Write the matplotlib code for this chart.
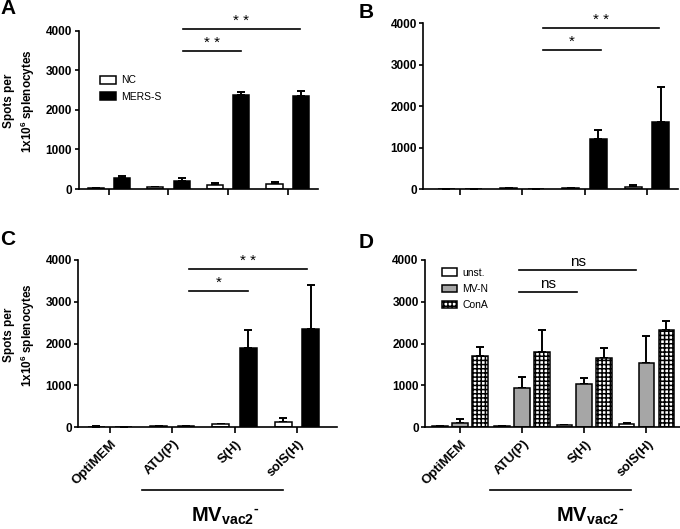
import numpy as np
import matplotlib.pyplot as plt
from matplotlib import transforms

plt.rcParams['font.family'] = 'Liberation Sans'
plt.rcParams['mathtext.fontset'] = 'custom'
plt.rcParams['mathtext.rm'] = 'Liberation Sans'
plt.rcParams['mathtext.bf'] = 'Liberation Sans:bold'
plt.rcParams['hatch.linewidth'] = 1.1

W, H = 680, 529

groups = ['OptiMEM', 'ATU(P)', 'S(H)', 'solS(H)']

# A: NC / MERS-S
a_nc = [20, 50, 90, 125]
a_nc_err = [10, 10, 50, 60]
a_mers = [265, 190, 2370, 2350]
a_mers_err = [75, 95, 75, 115]

# B
b_nc = [10, 20, 30, 65]
b_nc_err = [3, 5, 8, 40]
b_mers = [10, 10, 1205, 1620]
b_mers_err = [3, 3, 225, 835]

# C
c_nc = [10, 20, 60, 120]
c_nc_err = [3, 5, 15, 95]
c_mers = [8, 25, 1900, 2345]
c_mers_err = [3, 8, 435, 1060]

# D: unst / MV-N / ConA
d_unst = [15, 20, 40, 60]
d_unst_err = [3, 5, 10, 35]
d_mvn = [105, 925, 1020, 1540]
d_mvn_err = [80, 270, 145, 645]
d_cona = [1700, 1805, 1645, 2320]
d_cona_err = [225, 515, 240, 215]

fig = plt.figure(figsize=(6.8, 5.29), dpi=100)


def fx(x):
    return x / W


def fy(y):
    return 1 - y / H


def make_ax(x0, x1, ytop, ybot, xlim):
    ax = fig.add_axes([fx(x0), fy(ybot), (x1 - x0) / W, (ybot - ytop) / H])
    ax.set_xlim(*xlim)
    ax.set_ylim(0, 4000)
    ax.set_yticks([0, 1000, 2000, 3000, 4000])
    ax.set_xticks(range(len(groups)))
    ax.set_xticklabels([])
    for s in ['top', 'right']:
        ax.spines[s].set_visible(False)
    for s in ['left', 'bottom']:
        ax.spines[s].set_linewidth(1.2)
        ax.spines[s].set_zorder(5)
    ax.tick_params(axis='y', length=3, width=1.2, pad=1.5, labelsize=8.5)
    ax.tick_params(axis='x', length=4, width=1.2)
    for lab in ax.get_yticklabels():
        lab.set_fontweight('bold')
    return ax


def bars(ax, x, vals, errs, width, **kw):
    b = ax.bar(x, vals, width, edgecolor='black', linewidth=1.1, zorder=2, **kw)
    ax.errorbar(x, vals, yerr=[np.zeros(len(errs)), errs], fmt='none', ecolor='black',
                elinewidth=1.4, capsize=3, capthick=1.4, zorder=1, clip_on=False)
    return b


def sig(ax, x0, x1, y, label):
    ax.plot([x0, x1], [y, y], color='black', lw=1.2, clip_on=False)
    ax.annotate(label, ((x0 + x1) / 2, y), xytext=(0, 3), textcoords='offset points',
                ha='center', va='baseline', fontsize=11, annotation_clip=False)


def ylab(ax, ycenter):
    ax.set_ylabel('Spots per\n1x10$^{\\mathbf{6}}$ splenocytes', fontsize=8.5,
                  fontweight='bold', linespacing=1.3)
    ax.yaxis.set_label_coords(fx(37), fy(ycenter), transform=fig.transFigure)


def xlabels(ax, x0, x1, xc):
    ax.set_xticklabels(groups, rotation=45, ha='right', va='center',
                       rotation_mode='anchor', fontsize=9.5, fontweight='bold')
    ax.tick_params(axis='x', pad=7)
    off = transforms.ScaledTranslation(5 / 100, 0, fig.dpi_scale_trans)
    for lab in ax.get_xticklabels():
        lab.set_transform(lab.get_transform() + off)
    tr = transforms.blended_transform_factory(ax.transData, fig.transFigure)
    ax.plot([x0, x1], [fy(490), fy(490)], transform=tr, color='black', lw=1.2, clip_on=False)
    fig.text(fx(xc), fy(521.7), '$\\mathbf{MV}_{\\mathbf{vac2}}{}^{\\mathbf{\u2010}}$',
             ha='center', va='baseline', fontsize=14.5)


x = np.arange(len(groups))
w2 = 0.27

# ---- A
axA = make_ax(78.5, 318, 30.5, 189, (-0.51, 3.51))
hA1 = bars(axA, x - 0.22, a_nc, a_nc_err, w2, color='white')
hA2 = bars(axA, x + 0.22, a_mers, a_mers_err, w2, color='black')
sig(axA, 1.24, 3.2, 4040, '* *')
sig(axA, 1.24, 2.21, 3490, '* *')
ylab(axA, 101)
axA.legend([hA1, hA2], ['NC', 'MERS-S'], loc='upper left',
           bbox_to_anchor=(fx(100), fy(75.4)), bbox_transform=fig.transFigure,
           frameon=False, fontsize=7.5, handlelength=1.55, handleheight=0.75,
           handletextpad=0.45, labelspacing=0.6, borderpad=0, borderaxespad=0)

# ---- B
axB = make_ax(423.3, 678, 23.3, 189.3, (-0.59, 3.5))
bars(axB, x - 0.22, b_nc, b_nc_err, w2, color='white')
bars(axB, x + 0.22, b_mers, b_mers_err, w2, color='black')
sig(axB, 1.33, 3.2, 3880, '* *')
sig(axB, 1.33, 2.27, 3357, '*')

# ---- C
axC = make_ax(78.3, 336.7, 260, 427, (-0.51, 3.64))
bars(axC, x - 0.22, c_nc, c_nc_err, w2, color='white')
bars(axC, x + 0.22, c_mers, c_mers_err, w2, color='black')
sig(axC, 1.27, 3.17, 3784, '* *')
sig(axC, 1.27, 2.22, 3256, '*')
ylab(axC, 335)
xlabels(axC, 0.51, 2.78, 225)

# ---- D
axD = make_ax(425, 680, 260, 427, (-0.56, 3.54))
w3 = 0.25
hD1 = bars(axD, x - 0.32, d_unst, d_unst_err, w3, color='white')
hD2 = bars(axD, x, d_mvn, d_mvn_err, w3, color='#a6a6a6')
hD3 = bars(axD, x + 0.32, d_cona, d_cona_err, w3, color='white', hatch='++++')
sig(axD, 0.95, 2.84, 3760, 'ns')
sig(axD, 0.95, 1.88, 3240, 'ns')
xlabels(axD, 0.48, 2.76, 590)
axD.legend([hD1, hD2, hD3], ['unst.', 'MV-N', 'ConA'], loc='upper left',
           bbox_to_anchor=(fx(441.7), fy(267.7)), bbox_transform=fig.transFigure,
           frameon=False, fontsize=7.5, handlelength=1.45, handleheight=0.7,
           handletextpad=0.5, labelspacing=0.6, borderpad=0, borderaxespad=0)

for lbl, px, py in [('A', 0, 14), ('B', 359, 18), ('C', 0, 245), ('D', 359, 248)]:
    fig.text(fx(px), fy(py), lbl, fontsize=15, fontweight='bold', ha='left', va='baseline')

fig.savefig('out.png', dpi=100)
